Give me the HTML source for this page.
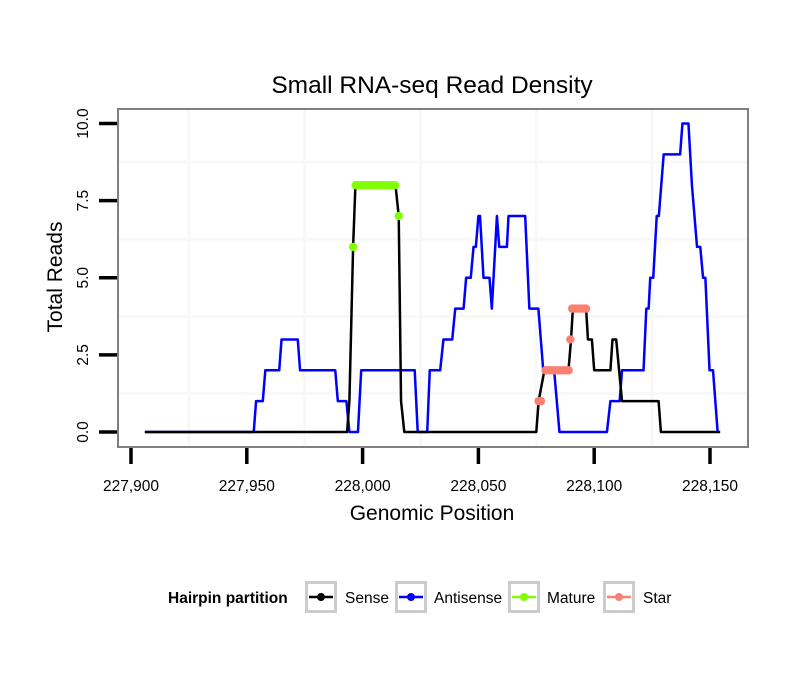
<!DOCTYPE html>
<html><head><meta charset="utf-8"><style>
body{margin:0;background:#fff;}
svg{display:block;font-family:"Liberation Sans",sans-serif;}
</style></head><body>
<svg id="chart" width="810" height="690">
<rect width="810" height="690" fill="#fff"/>
<text x="432" y="93" font-size="24.5" text-anchor="middle">Small RNA-seq Read Density</text>
<rect x="118" y="109" width="630" height="338" fill="#fff"/>
<g id="grid"></g>
<g id="series"></g>
<rect x="118" y="109" width="630" height="338" fill="none" stroke="#808080" stroke-width="2"/>
<g id="axes"></g>
<text x="432" y="520" font-size="21" text-anchor="middle">Genomic Position</text>
<text transform="translate(62,277) rotate(-90)" font-size="21" text-anchor="middle">Total Reads</text>
<g>
<text x="168" y="603" font-size="15.5" font-weight="bold">Hairpin partition</text>
<g id="legend"></g>
</g>
</svg>
<script>
const xTicks=[227900,227950,228000,228050,228100,228150];
const xTickLabels=["227,900","227,950","228,000","228,050","228,100","228,150"];
const yTicks=[0,2.5,5,7.5,10];
const yTickLabels=["0.0","2.5","5.0","7.5","10.0"];
const senseX=[227906,227993.3,227994.3,227995.9,227996.9,228014.2,228015.6,228016.6,228018,228075,228076,228078.5,228088.9,228090,228090.8,228096.5,228097.3,228099,228100,228107,228107.9,228109.5,228112,228127.8,228128.8,228154.4];
const senseY=[0,0,1,6,8,8,7,1,0,0,1,2,2,3,4,4,3,3,2,2,3,3,1,1,0,0];
const antiX=[227906,227953,227954,227956.9,227958,227964,227965,227972,227973,227988.2,227989.3,227993,227994.3,227998,227999.4,228022.5,228023.8,228027.9,228029,228033.5,228034.9,228038.7,228040,228043.6,228044.7,228046.7,228047.9,228048.9,228050,228050.7,228052.2,228054.8,228055.8,228058,228059,228062.3,228063,228070.2,228072,228075.9,228078,228082.7,228085,228105.5,228107,228111,228112,228121.3,228122.5,228123.5,228124.2,228125.5,228127,228127.9,228130,228137.1,228138.1,228140.7,228142.2,228144.4,228145.8,228147,228148,228149.8,228151.3,228153.3];
const antiY=[0,0,1,1,2,2,3,3,2,2,1,1,0,0,2,2,0,0,2,2,3,3,4,4,5,5,6,6,7,7,5,5,4,7,6,6,7,7,4,4,2,2,0,0,1,1,2,2,4,4,5,5,7,7,9,9,10,10,8,6,6,5,5,2,2,0];
const matureX=[227995.9,227997,227998,227999,228000,228001,228002,228003,228004,228005,228006,228007,228008,228009,228010,228011,228012,228013,228014,228015.6];
const matureY=[6,8,8,8,8,8,8,8,8,8,8,8,8,8,8,8,8,8,8,7];
const starX=[228076,228077,228079,228080,228081,228082,228083,228084,228085,228086,228087,228088,228089,228089.7,228090.5,228091.5,228092.5,228093.5,228094.5,228095.5,228096.5];
const starY=[1,1,2,2,2,2,2,2,2,2,2,2,2,3,4,4,4,4,4,4,4];
const NS="http://www.w3.org/2000/svg";
function sx(g){return 131+(g-227900)*(710-131)/250;}
function sy(v){return 432-v*30.85;}
function mk(tag,attrs,parent){const e=document.createElementNS(NS,tag);for(const k in attrs)e.setAttribute(k,attrs[k]);parent.appendChild(e);return e;}
const grid=document.getElementById('grid'),series=document.getElementById('series'),axes=document.getElementById('axes'),legend=document.getElementById('legend');
[227925,227975,228025,228075,228125].forEach(g=>{
 const l=mk('line',{x1:sx(g),x2:sx(g),y1:110,y2:446,stroke:'#f8f8f8','stroke-width':3},grid);
 
 
});
[1.25,3.75,6.25,8.75].forEach(v=>{
 const l=mk('line',{x1:119,x2:747,y1:sy(v),y2:sy(v),stroke:'#f8f8f8','stroke-width':3},grid);
 
 
});
xTicks.forEach((t,i)=>{
 const l=mk('line',{x1:sx(t),x2:sx(t),y1:448,y2:464,stroke:'#000','stroke-width':3.5},axes);
 
 
 const tx=mk('text',{x:sx(t),y:491,'font-size':15.5,'text-anchor':'middle'},axes);
 tx.textContent=xTickLabels[i];
 
 
});
yTicks.forEach((t,i)=>{
 const l=mk('line',{x1:99,x2:117,y1:sy(t),y2:sy(t),stroke:'#000','stroke-width':3.5},axes);
 
 
 const tx=mk('text',{transform:`translate(88,${sy(t)}) rotate(-90)`,'font-size':15.5,'text-anchor':'middle'},axes);
 tx.textContent=yTickLabels[i];
 
 
});
function line(xs,ys,color,name){
 const p=mk('polyline',{points:xs.map((x,i)=>sx(x)+','+sy(ys[i])).join(' '),fill:'none',stroke:color,'stroke-width':2.5,'stroke-linejoin':'round'},series);
 
 
}
function pts(xs,ys,color,name){
 xs.forEach((x,i)=>{
  const c=mk('circle',{cx:sx(x),cy:sy(ys[i]),r:4.2,fill:color},series);
  
  
 });
}
line(antiX,antiY,'#0000ff','antisense-line');
line(senseX,senseY,'#000000','sense-line');
pts(matureX,matureY,'#7fff00','mature-point');
pts(starX,starY,'#fa8072','star-point');
const leg=[["Sense","#000",305,345],["Antisense","#0000ff",395,434],["Mature","#7fff00",508,547],["Star","#fa8072",603,643]];
leg.forEach(([lab,col,bx,tx])=>{
 const b=mk('rect',{x:bx+1.5,y:582.5,width:29,height:29,fill:'#fff',stroke:'#cccccc','stroke-width':3},legend);
 
 
 mk('line',{x1:bx+4,x2:bx+28,y1:597,y2:597,stroke:col,'stroke-width':2.5},legend);
 mk('circle',{cx:bx+16,cy:597,r:4,fill:col},legend);
 const t=mk('text',{x:tx,y:603,'font-size':15.5},legend);
 t.textContent=lab;
 
 
});
</script>
</body></html>
